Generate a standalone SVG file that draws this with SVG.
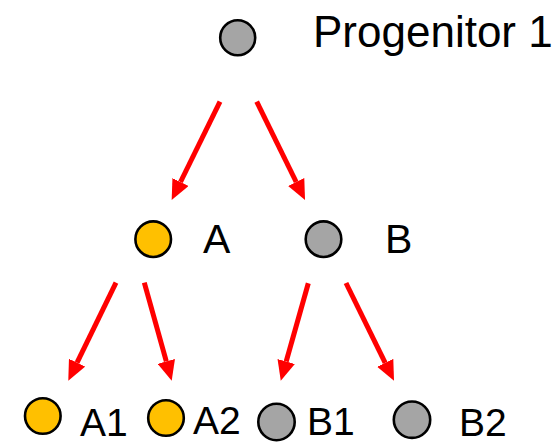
<svg xmlns="http://www.w3.org/2000/svg" width="560" height="444" viewBox="0 0 560 444">
<style>
.n{stroke:#000;stroke-width:2.6}
.g{fill:#A5A5A5}
.y{fill:#FFC000}
.t{font-family:"Liberation Sans",Arial,sans-serif;fill:#000}
.e{stroke:#FF0000;stroke-width:5;fill:none;marker-end:url(#ah)}
</style>
<defs>
<marker id="ah" markerUnits="userSpaceOnUse" markerWidth="20" markerHeight="18" refX="0" refY="9" orient="auto">
<path d="M0,0 L20,9 L0,18 z" fill="#FF0000"/>
</marker>
</defs>
<rect width="560" height="444" fill="#fff"/>
<g id="connectors">
<line class="e" x1="220" y1="101.7" x2="180.5" y2="182"/>
<line class="e" x1="256.7" y1="101.7" x2="296.2" y2="182"/>
<line class="e" x1="116" y1="282.7" x2="77.05" y2="362.7"/>
<line class="e" x1="144.3" y1="282.7" x2="166.3" y2="361.4"/>
<line class="e" x1="308.3" y1="283.3" x2="286.2" y2="361.5"/>
<line class="e" x1="346" y1="283" x2="385.2" y2="362.8"/>
</g>
<g id="progenitor1">
<circle class="n g" cx="237.7" cy="37.7" r="17.5"/>
<text class="t" x="313" y="47" font-size="44">Progenitor 1</text>
</g>
<g id="A">
<circle class="n y" cx="153.2" cy="239.2" r="17.8"/>
<text class="t" x="203" y="253" font-size="41">A</text>
</g>
<g id="B">
<circle class="n g" cx="323.5" cy="239.2" r="17.8"/>
<text class="t" x="385" y="253" font-size="41">B</text>
</g>
<g id="A1">
<circle class="n y" cx="42.8" cy="416" r="17.8"/>
<text class="t" x="80" y="436" font-size="39">A1</text>
</g>
<g id="A2">
<circle class="n y" cx="166" cy="418" r="17.8"/>
<text class="t" x="193" y="434" font-size="39">A2</text>
</g>
<g id="B1">
<circle class="n g" cx="276.5" cy="422" r="18.2"/>
<text class="t" x="307" y="435" font-size="39">B1</text>
</g>
<g id="B2">
<circle class="n g" cx="412" cy="419.7" r="18.2"/>
<text class="t" x="459" y="436" font-size="39">B2</text>
</g>
</svg>
